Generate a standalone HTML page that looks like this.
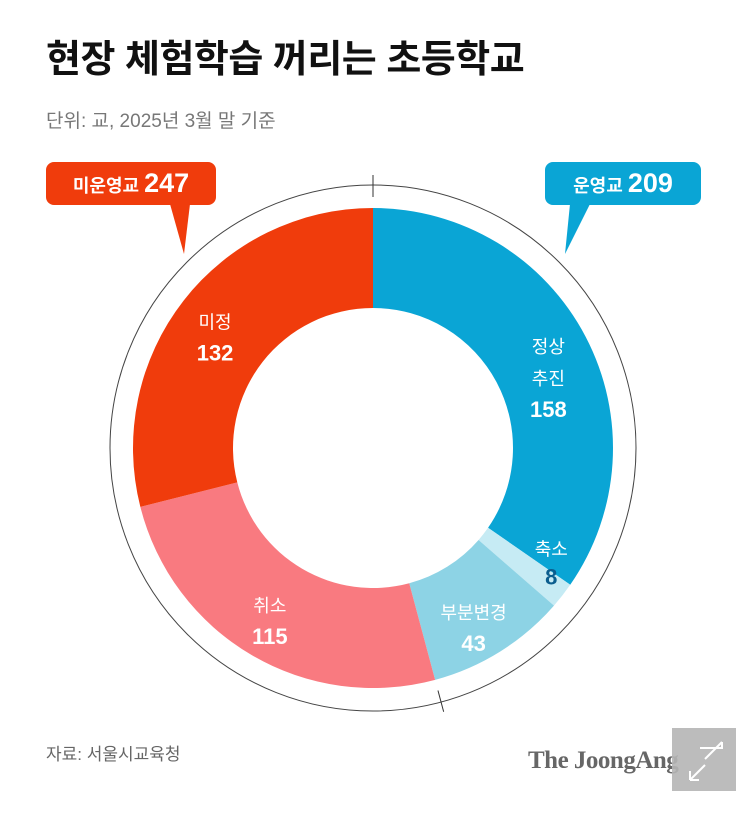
<!DOCTYPE html>
<html><head><meta charset="utf-8"><style>
body{margin:0;background:#fff;width:743px;height:811px;overflow:hidden;font-family:"Liberation Sans","Noto Sans CJK KR",sans-serif;}
</style></head><body>
<svg width="743" height="811">
<text x="46" y="72" font-size="38" font-weight="bold" fill="#111" font-family="Liberation Sans, Noto Sans CJK KR, sans-serif" letter-spacing="-0.5">현장 체험학습 꺼리는 초등학교</text>
<text x="46" y="127" font-size="19" fill="#777" font-family="Liberation Sans, Noto Sans CJK KR, sans-serif" letter-spacing="0">단위: 교, 2025년 3월 말 기준</text>
<g id="donut"></g>
<g>
<rect x="46" y="162" width="170" height="43" rx="8" fill="#f03c0c"/>
<polygon points="170,204 190,204 184,254" fill="#f03c0c"/>
<text x="131" y="192" text-anchor="middle" fill="#fff" font-weight="bold" font-family="Liberation Sans, Noto Sans CJK KR, sans-serif"><tspan font-size="18">미운영교 </tspan><tspan font-size="27">247</tspan></text>
</g>
<g>
<rect x="545" y="162" width="156" height="43" rx="8" fill="#0aa5d5"/>
<polygon points="570,204 590,204 565,254" fill="#0aa5d5"/>
<text x="623" y="192" text-anchor="middle" fill="#fff" font-weight="bold" font-family="Liberation Sans, Noto Sans CJK KR, sans-serif"><tspan font-size="18">운영교 </tspan><tspan font-size="27">209</tspan></text>
</g>
<text x="46" y="760" font-size="17" fill="#666" font-family="Liberation Sans, Noto Sans CJK KR, sans-serif">자료: 서울시교육청</text>
<text x="528" y="768" font-size="25" font-weight="bold" fill="#666" font-family="Liberation Serif, serif" letter-spacing="-0.5">The JoongAng</text>
<g>
<rect x="672" y="728" width="64" height="63" fill="#b5b5b5" opacity="0.9"/>
<path d="M700 748 L722 748 L722 742 M716 748 L722 742 M722 742 L705 759 M705 765 L690 780 M690 780 L690 771 M690 780 L699 780" stroke="#fff" stroke-width="2" fill="none"/>
</g>
</svg>
<script>
const categories=["정상\n추진","축소","부분변경","취소","미정"];
const values=[158,8,43,115,132];
const colors=["#0aa5d5","#c6ebf4","#8dd3e5","#f97a80","#f03c0c"];
const numColors=["#fff","#0b5e8f","#fff","#fff","#fff"];
const catColors=["#fff","#fff","#fff","#fff","#fff"];
const labelShift=[[7,18],[11,-15],[0,19],[-7,9],[-8,6]];
const groupValues=[209,247];
const NS="http://www.w3.org/2000/svg";
const g=document.getElementById('donut');
const cx=373,cy=448,R=240,r=140,RR=263;
const total=values.reduce((a,b)=>a+b,0);
function pt(a,rad){return [cx+rad*Math.sin(a),cy-rad*Math.cos(a)];}
function ang(v){return v/total*2*Math.PI;}
let acc=0;
values.forEach((v,i)=>{
 const a0=ang(acc),a1=ang(acc+v);acc+=v;
 const p0=pt(a0,R),p1=pt(a1,R),q1=pt(a1,r),q0=pt(a0,r);
 const lg=(a1-a0)>Math.PI?1:0;
 const p=document.createElementNS(NS,'path');
 p.setAttribute('d',`M${p0} A${R},${R} 0 ${lg} 1 ${p1} L${q1} A${r},${r} 0 ${lg} 0 ${q0}Z`);
 p.setAttribute('fill',colors[i]);
 
 
 g.appendChild(p);
});
acc=0;
values.forEach((v,i)=>{
 const a0=ang(acc),a1=ang(acc+v);acc+=v;
 const am=(a0+a1)/2;
 const lr = i===1?212:190;
 let [lx,ly]=pt(am,lr);
 lx+=labelShift[i][0];ly+=labelShift[i][1];
 const lines=categories[i].split("\n").concat([String(v)]);
 const t=document.createElementNS(NS,'text');
 t.setAttribute('text-anchor','middle');
 t.setAttribute('font-family','Liberation Sans, Noto Sans CJK KR, sans-serif');
 
 
 const n=lines.length, lh=i===1?29:32;
 lines.forEach((s,k)=>{
  const ts=document.createElementNS(NS,'tspan');
  ts.setAttribute('x',lx);
  ts.setAttribute('y',ly-(n-1)*lh/2+k*lh+7);
  const isNum=k===n-1;
  ts.setAttribute('font-size',isNum?22:18);
  ts.setAttribute('fill',isNum?numColors[i]:catColors[i]);
  if(isNum)ts.setAttribute('font-weight','bold');
  ts.textContent=s;t.appendChild(ts);
 });
 g.appendChild(t);
});
const c=document.createElementNS(NS,'circle');
c.setAttribute('cx',cx);c.setAttribute('cy',cy);c.setAttribute('r',RR);
c.setAttribute('fill','none');c.setAttribute('stroke','#444');c.setAttribute('stroke-width','1');


g.appendChild(c);
[0,groupValues[0]].forEach((v,i)=>{
 const a=ang(v);const [x0,y0]=pt(a,RR-12),[x1,y1]=pt(a,RR+10);
 const l=document.createElementNS(NS,'line');
 l.setAttribute('x1',x0);l.setAttribute('y1',y0);l.setAttribute('x2',x1);l.setAttribute('y2',y1);
 l.setAttribute('stroke','#333');
 
 
 g.appendChild(l);
});
</script>
</body></html>
